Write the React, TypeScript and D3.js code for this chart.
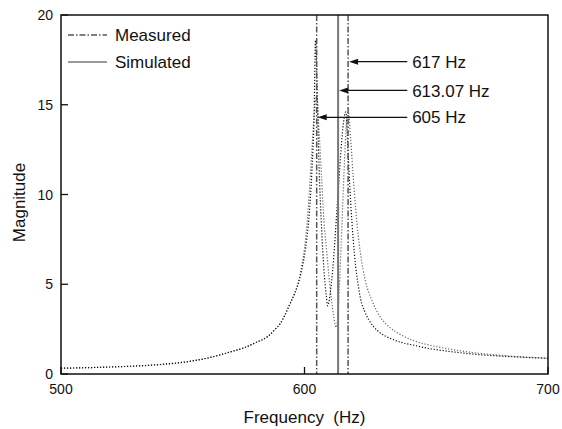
import React from "react";
import * as d3 from "d3";

// ---- data ----
const freqA = [500, 510, 520, 530, 540, 550, 555, 560, 565, 570, 575, 580, 585, 588, 590, 592, 594, 596, 598, 599, 600, 601, 602, 603, 604, 604.5, 605, 605.5, 606, 607, 608, 609, 609.5, 610, 611, 612, 613, 614, 615, 616, 617, 618, 619, 620, 621, 622, 623, 625, 628, 631, 635, 640, 645, 650, 660, 670, 680, 690, 700];
const magA = [0.32, 0.35, 0.39, 0.44, 0.52, 0.65, 0.75, 0.88, 1.05, 1.25, 1.45, 1.75, 2.1, 2.5, 2.8, 3.3, 3.9, 4.5, 5.3, 5.9, 6.6, 7.6, 9.0, 11.2, 14.8, 18.6, 17, 14, 11.5, 8.2, 5.8, 4.3, 3.8, 4.0, 5.0, 6.5, 8.5, 10.5, 12.5, 14, 14.6, 12, 9.5, 7.5, 6.0, 5.0, 4.2, 3.4, 2.7, 2.3, 2.0, 1.75, 1.6, 1.45, 1.25, 1.1, 1.0, 0.93, 0.87];

const freqB = [500, 510, 520, 530, 540, 550, 555, 560, 565, 570, 575, 580, 585, 588, 590, 592, 594, 596, 598, 599, 600, 601, 602, 603, 604, 605, 606, 607, 608, 609, 610, 611, 612, 613, 613.5, 614, 615, 616, 617, 617.5, 618, 619, 620, 621, 622, 623, 625, 628, 631, 635, 640, 645, 650, 655, 660, 670, 680, 690, 700];
const magB = [0.32, 0.35, 0.39, 0.44, 0.52, 0.65, 0.75, 0.88, 1.05, 1.25, 1.45, 1.75, 2.1, 2.5, 2.8, 3.3, 3.9, 4.5, 5.4, 6.1, 7.0, 8.3, 10.2, 12.4, 14.5, 15.5, 13.5, 11, 8.5, 7, 5.5, 4.2, 3.2, 2.6, 2.9, 4, 7, 10.5, 13.5, 14.4, 14.6, 13, 11, 9.2, 7.8, 6.7, 5.2, 4.0, 3.2, 2.6, 2.15, 1.85, 1.65, 1.5, 1.38, 1.18, 1.05, 0.95, 0.88];

const measuredLines = [605, 617.9];
const simulatedLines = [613.8];

const annLabels = ["617 Hz", "613.07 Hz", "605 Hz"];
const annTargets = [617.9, 613.8, 605];
const annMags = [17.4, 15.8, 14.3];

const xTicks = [500, 600, 700];
const yTicks = [0, 5, 10, 15, 20];

const legendLabels = ["Measured", "Simulated"];

// ---- layout ----
const W = 562, H = 429;
const L = 61, R = 548, T = 15, B = 374;
const FONT = "Arial, 'Liberation Sans', Helvetica, sans-serif";

export default function App() {
  const x = d3.scaleLinear().domain([500, 700]).range([L, R]);
  const y = d3.scaleLinear().domain([0, 20]).range([B, T]);
  const line = d3.line<[number, number]>().x(d => x(d[0])).y(d => y(d[1])).curve(d3.curveMonotoneX);
  const dA = line(freqA.map((f, i) => [f, magA[i]]) as [number, number][]) || "";
  const dB = line(freqB.map((f, i) => [f, magB[i]]) as [number, number][]) || "";

  const dashDot = "6,2,1.5,2";
  const annTailF = 642.2;
  const annTextF = 644.2;

  return (
    <svg width={W} height={H} style={{ position: "absolute", left: 0, top: 0, background: "#fff" }} fontFamily={FONT}>
      <rect x={0} y={0} width={W} height={H} fill="#fff" />
      {/* curves */}
      <path d={dB} fill="none" stroke="#666" strokeWidth={1.2} strokeDasharray="1.2,1.8" />
      <path d={dA} fill="none" stroke="#111" strokeWidth={1.2} strokeDasharray="1.2,1.8" />
      {/* vertical lines */}
      {measuredLines.map((f, i) => (
        <line key={"m" + i} x1={x(f)} x2={x(f)} y1={T} y2={B} stroke="#555" strokeWidth={1.5} strokeDasharray={dashDot} />
      ))}
      {simulatedLines.map((f, i) => (
        <line key={"s" + i} x1={x(f)} x2={x(f)} y1={T} y2={B} stroke="#777" strokeWidth={2} />
      ))}
      {/* frame */}
      <rect x={L} y={T} width={R - L} height={B - T} fill="none" stroke="#111" strokeWidth={1.5} />
      {/* y ticks */}
      {yTicks.map(t => (
        <g key={"y" + t}>
          <line x1={L} x2={L + 7} y1={y(t)} y2={y(t)} stroke="#111" strokeWidth={1.3} />
          <text x={L - 8} y={y(t)} dy="0.36em" textAnchor="end" fontSize={14} fill="#111">{t}</text>
        </g>
      ))}
      {/* x ticks */}
      {xTicks.map(t => (
        <g key={"x" + t}>
          <line x1={x(t)} x2={x(t)} y1={B} y2={B - 7} stroke="#111" strokeWidth={1.3} />
          <text x={x(t)} y={B + 20} textAnchor="middle" fontSize={14} fill="#111">{t}</text>
        </g>
      ))}
      {/* axis labels */}
      <text x={(L + R) / 2} y={423} textAnchor="middle" fontSize={17} fill="#111" style={{ whiteSpace: "pre" }}>{"Frequency  (Hz)"}</text>
      <text transform={`translate(25,${(T + B) / 2 + 8}) rotate(-90)`} textAnchor="middle" fontSize={17} fill="#111">Magnitude</text>
      {/* legend */}
      <line x1={68} x2={107} y1={35} y2={35} stroke="#555" strokeWidth={1.3} strokeDasharray={dashDot} />
      <text x={115} y={41} fontSize={17} fill="#111">{legendLabels[0]}</text>
      <line x1={68} x2={107} y1={62} y2={62} stroke="#777" strokeWidth={1.5} />
      <text x={115} y={68} fontSize={17} fill="#111">{legendLabels[1]}</text>
      {/* annotations */}
      {annLabels.map((lab, i) => {
        const tip = x(annTargets[i]) + 1;
        const yy = y(annMags[i]);
        return (
          <g key={"a" + i}>
            <line x1={x(annTailF)} x2={tip + 6} y1={yy} y2={yy} stroke="#111" strokeWidth={1.3} />
            <path d={`M${tip},${yy} L${tip + 9},${yy - 3} L${tip + 9},${yy + 3} Z`} fill="#111" />
            <text x={x(annTextF)} y={yy} dy="0.36em" fontSize={17} fill="#111">{lab}</text>
          </g>
        );
      })}
    </svg>
  );
}
